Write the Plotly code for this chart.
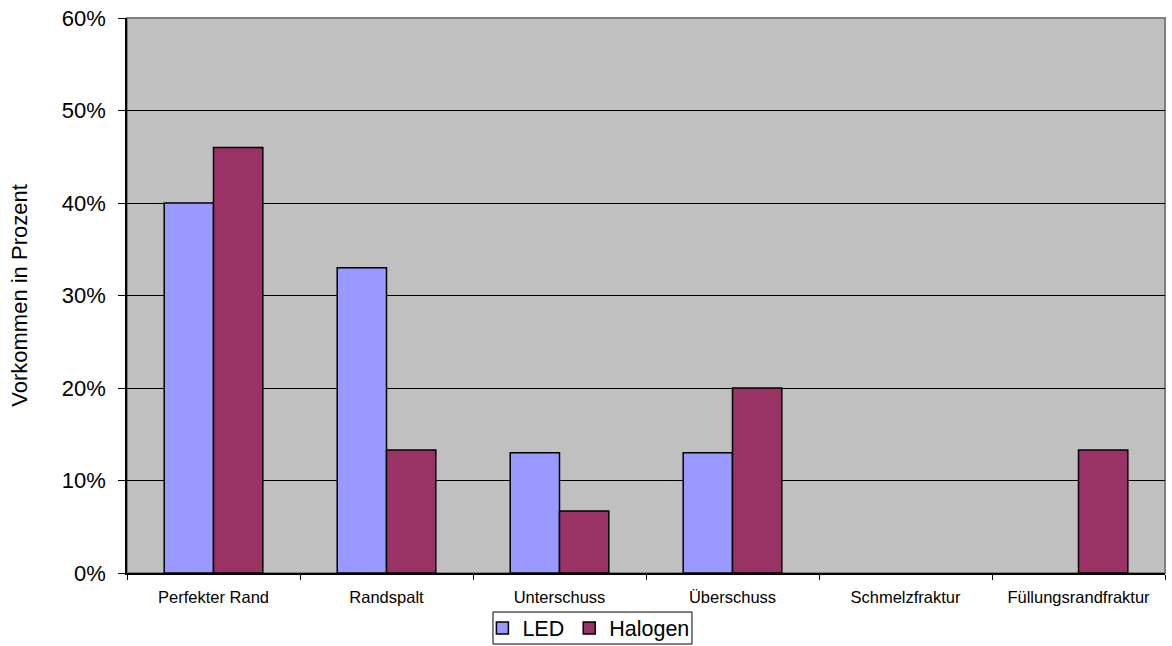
import plotly.graph_objects as go

categories = ["Perfekter Rand", "Randspalt", "Unterschuss", "Überschuss", "Schmelzfraktur", "Füllungsrandfraktur"]
led = [0.40, 0.33, 0.13, 0.13, 0.0, 0.0]
halogen = [0.46, 0.133, 0.067, 0.20, 0.0, 0.133]
y_ticks = [0, 0.1, 0.2, 0.3, 0.4, 0.5, 0.6]
y_labels = ["0%", "10%", "20%", "30%", "40%", "50%", "60%"]

font = "Liberation Sans, Arial, sans-serif"


def outline(vals):
    return [1.5 if v > 0 else 0 for v in vals]


fig = go.Figure()
fig.add_trace(go.Bar(x=categories, y=led, name="LED",
                     marker=dict(color="#9999FF", line=dict(color="black", width=outline(led)))))
fig.add_trace(go.Bar(x=categories, y=halogen, name="Halogen",
                     marker=dict(color="#993366", line=dict(color="black", width=outline(halogen)))))

fig.update_layout(
    width=1172, height=646,
    margin=dict(l=127, r=7, t=18, b=73, autoexpand=False),
    paper_bgcolor="white", plot_bgcolor="#C0C0C0",
    barmode="group", bargap=0.43, bargroupgap=0,
    font=dict(family=font, color="black"),
    legend=dict(orientation="h", x=0.4445, xanchor="center", y=-0.099, yanchor="middle",
                bordercolor="black", borderwidth=0, bgcolor="rgba(0,0,0,0)",
                font=dict(size=21.5, family=font), itemwidth=30, tracegroupgap=0),
    shapes=[
        dict(type="rect", xref="paper", yref="paper", x0=0, x1=1, y0=0, y1=1,
             line=dict(color="#808080", width=2), layer="below"),
        dict(type="rect", xref="paper", yref="paper", x0=0.3526, x1=0.5443,
             y0=-0.128, y1=-0.0703, line=dict(color="black", width=1), layer="below"),
    ],
)
fig.update_xaxes(type="category", tickson="boundaries", ticks="outside", ticklen=5,
                 tickcolor="black", showline=True, linecolor="black", linewidth=1.5,
                 showgrid=False, tickfont=dict(size=16.5, family=font), fixedrange=True,
                 ticklabelstandoff=8)
fig.update_yaxes(range=[0, 0.6], tickvals=y_ticks, ticktext=y_labels, ticks="outside",
                 ticklen=7, tickcolor="black", showline=True, linecolor="black", linewidth=1.5,
                 showgrid=True, gridcolor="black", gridwidth=1, zeroline=False,
                 tickfont=dict(size=22, family=font), ticklabelstandoff=8,
                 title=dict(text="Vorkommen in Prozent", font=dict(size=22, family=font), standoff=28))

fig.write_html("out.html")
